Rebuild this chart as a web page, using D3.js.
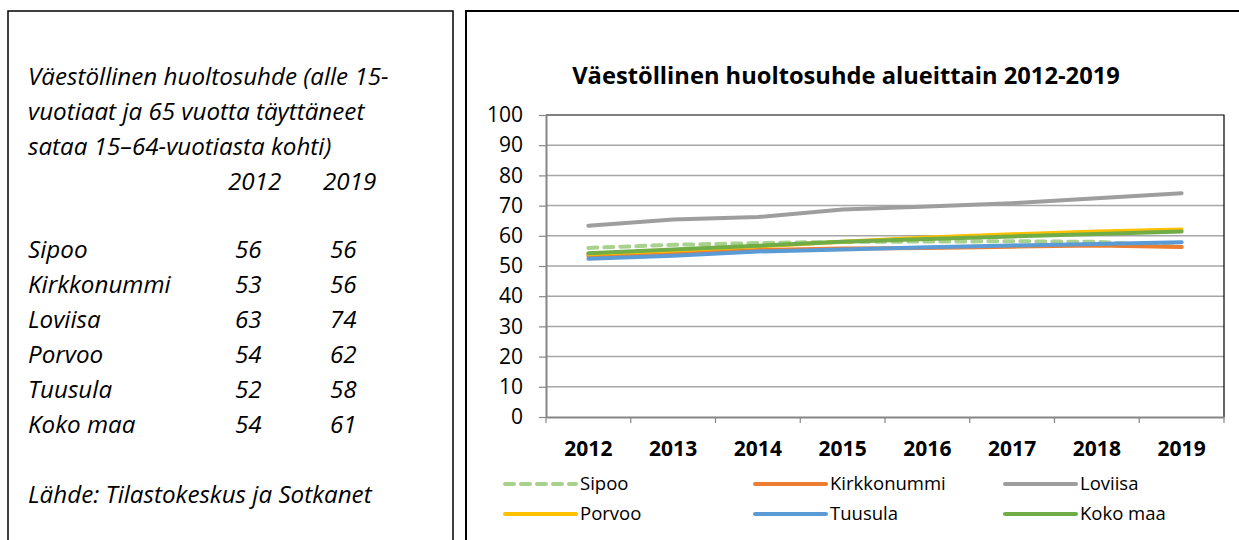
<!DOCTYPE html>
<html>
<head>
<meta charset="utf-8">
<script src="https://cdn.jsdelivr.net/npm/d3@7"></script>
<style>
  body { margin: 0; background: #fff; }
  svg { display: block; font-family: "Open Sans", sans-serif; }
</style>
</head>
<body>
<svg id="chart"></svg>
<script>
// data
const years = ["2012", "2013", "2014", "2015", "2016", "2017", "2018", "2019"];
const seriesNames = ["Sipoo", "Kirkkonummi", "Loviisa", "Porvoo", "Tuusula", "Koko maa"];
const sipoo = [56.0, 57.0, 57.6, 58.0, 58.1, 58.2, 58.0, 56.3];
const kirkkonummi = [53.4, 54.2, 55.3, 55.8, 56.0, 56.4, 56.8, 56.3];
const loviisa = [63.3, 65.4, 66.2, 68.7, 69.7, 70.8, 72.4, 74.1];
const porvoo = [54.0, 55.1, 56.5, 58.0, 59.4, 60.5, 61.4, 62.1];
const tuusula = [52.4, 53.4, 54.8, 55.5, 56.2, 56.8, 57.3, 57.9];
const kokoMaa = [54.2, 55.5, 56.7, 58.0, 58.9, 59.8, 60.6, 61.4];
const yTicks = [0, 10, 20, 30, 40, 50, 60, 70, 80, 90, 100];

const tableTitle = ["Väestöllinen huoltosuhde (alle 15-", "vuotiaat ja 65 vuotta täyttäneet", "sataa 15–64-vuotiasta kohti)"];
const tableYears = ["2012", "2019"];
const tableRows = ["Sipoo", "Kirkkonummi", "Loviisa", "Porvoo", "Tuusula", "Koko maa"];
const table2012 = [56, 53, 63, 54, 52, 54];
const table2019 = [56, 56, 74, 62, 58, 61];
const sourceText = "Lähde: Tilastokeskus ja Sotkanet";

const colors = ["#a9d18e", "#ed7d31", "#9e9e9e", "#ffc000", "#5b9bd5", "#70ad47"];
const allSeries = [sipoo, kirkkonummi, loviisa, porvoo, tuusula, kokoMaa];

let width = 1239;
let height = 540;

let svg = d3.select("#chart").attr("width", width).attr("height", height);

// left text box
svg.append("rect")
    .attr("x", 8).attr("y", 11)
    .attr("width", 445).attr("height", 600)
    .attr("fill", "none").attr("stroke", "#000").attr("stroke-width", 1.5);

const left = svg.append("g")
    .attr("font-style", "italic")
    .attr("font-size", 24.2)
    .attr("fill", "#000");

tableTitle.forEach((t, i) => {
    left.append("text").attr("x", 28).attr("y", 85 + i * 35).text(t);
});
tableYears.forEach((t, i) => {
    left.append("text").attr("x", 228 + i * 95).attr("y", 190).text(t);
});
tableRows.forEach((r, i) => {
    let y = 258 + i * 35;
    left.append("text").attr("x", 28).attr("y", y).text(r);
    left.append("text").attr("x", 235).attr("y", y).text(table2012[i]);
    left.append("text").attr("x", 330).attr("y", y).text(table2019[i]);
});
left.append("text").attr("x", 28).attr("y", 503).text(sourceText);

// right chart box
svg.append("rect")
    .attr("x", 466).attr("y", 11)
    .attr("width", 900).attr("height", 600)
    .attr("fill", "none").attr("stroke", "#000").attr("stroke-width", 2);

svg.append("text")
    .attr("x", 846).attr("y", 84)
    .attr("text-anchor", "middle")
    .attr("font-weight", "bold")
    .attr("font-size", 23.7)
    .text("Väestöllinen huoltosuhde alueittain 2012-2019");

// scales
const plotLeft = 546, plotRight = 1224, plotTop = 115, plotBottom = 417;

const xScale = d3.scaleBand().domain(years).range([plotLeft, plotRight]);
const yScale = d3.scaleLinear().domain([0, 100]).range([plotBottom, plotTop]);

// gridlines
svg.append("g")
    .selectAll("line")
    .data(yTicks.filter(d => d > 0 && d < 100))
    .enter()
    .append("line")
    .attr("x1", plotLeft).attr("x2", plotRight)
    .attr("y1", d => yScale(d)).attr("y2", d => yScale(d))
    .attr("stroke", "#a6a6a6").attr("stroke-width", 1.5);

// plot border top/right
svg.append("path")
    .attr("d", "M" + plotLeft + "," + yScale(100) + "H" + plotRight + "V" + plotBottom)
    .attr("fill", "none").attr("stroke", "#000").attr("stroke-width", 1.2);

// y axis
const yAxis = d3.axisLeft(yScale).tickValues(yTicks).tickSize(7).tickSizeOuter(0);
const gy = svg.append("g")
    .attr("transform", "translate(" + plotLeft + ",0)")
    .call(yAxis);
gy.select(".domain").attr("stroke", "#868686").attr("stroke-width", 2);
gy.selectAll(".tick line").attr("stroke", "#868686").attr("stroke-width", 1.2);
gy.selectAll(".tick text")
    .attr("font-size", 21).attr("font-family", "Open Sans, sans-serif")
    .attr("fill", "#000").attr("x", -23);

// x axis
const xAxis = d3.axisBottom(xScale).tickSize(0).tickSizeOuter(0);
const gx = svg.append("g")
    .attr("transform", "translate(0," + plotBottom + ")")
    .call(xAxis);
gx.select(".domain").attr("stroke", "#868686").attr("stroke-width", 2);
gx.selectAll(".tick text")
    .attr("font-size", 21).attr("font-weight", "bold")
    .attr("font-family", "Open Sans, sans-serif")
    .attr("fill", "#000").attr("dy", null).attr("y", 39);

// category boundary ticks
const bounds = years.map(y => xScale(y)).concat([plotRight]);
gx.selectAll(".bound")
    .data(bounds)
    .enter()
    .append("line")
    .attr("class", "bound")
    .attr("x1", d => d).attr("x2", d => d)
    .attr("y1", 0).attr("y2", 6)
    .attr("stroke", "#868686").attr("stroke-width", 1.2);

// lines
const line = d3.line()
    .x((d, i) => xScale(years[i]) + xScale.bandwidth() / 2)
    .y(d => yScale(d));

svg.append("g")
    .selectAll("path")
    .data(allSeries)
    .enter()
    .append("path")
    .attr("d", d => line(d))
    .attr("fill", "none")
    .attr("stroke", (d, i) => colors[i])
    .attr("stroke-width", 4)
    .attr("stroke-linecap", "round")
    .attr("stroke-linejoin", "round")
    .attr("stroke-dasharray", (d, i) => i === 0 ? "9,7" : null);

// legend
const legendX = [505, 755, 1005];
const legendY = [484, 514];
const legend = svg.append("g")
    .selectAll("g")
    .data(seriesNames)
    .enter()
    .append("g")
    .attr("transform", (d, i) => "translate(" + legendX[i % 3] + "," + legendY[Math.floor(i / 3)] + ")");

legend.append("line")
    .attr("x1", 0).attr("x2", 71)
    .attr("y1", 0).attr("y2", 0)
    .attr("stroke", (d, i) => colors[i])
    .attr("stroke-width", 4)
    .attr("stroke-linecap", "round")
    .attr("stroke-dasharray", (d, i) => i === 0 ? "9,7" : null);

legend.append("text")
    .attr("x", 75).attr("y", 6)
    .attr("font-size", 18.5)
    .text(d => d);
</script>
</body>
</html>
